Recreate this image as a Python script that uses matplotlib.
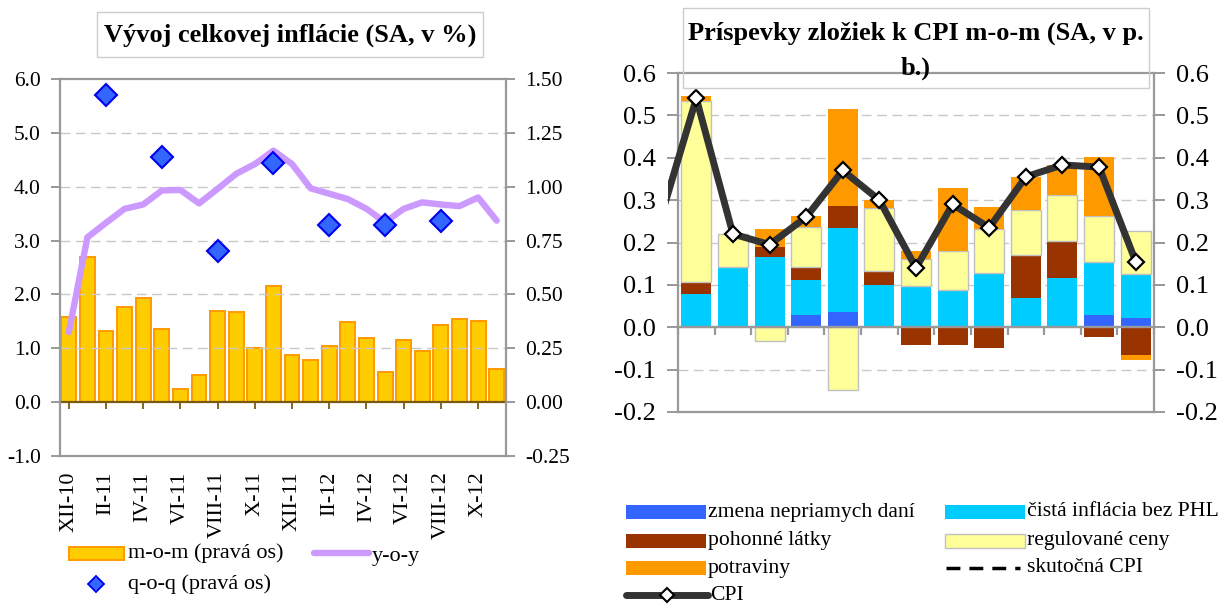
import numpy as np
import matplotlib
matplotlib.use("Agg")
import matplotlib.pyplot as plt
from matplotlib.patches import Rectangle
from matplotlib.lines import Line2D
from matplotlib.ticker import FixedLocator, FormatStrFormatter

plt.rcParams['font.family'] = ['Liberation Serif', 'DejaVu Serif']
plt.rcParams['axes.unicode_minus'] = False

# ---------------- data: left chart ----------------
months_left = ['XII-10', 'I-11', 'II-11', 'III-11', 'IV-11', 'V-11', 'VI-11', 'VII-11',
               'VIII-11', 'IX-11', 'X-11', 'XI-11', 'XII-11', 'I-12', 'II-12', 'III-12',
               'IV-12', 'V-12', 'VI-12', 'VII-12', 'VIII-12', 'IX-12', 'X-12', 'XI-12']
mom = [0.397, 0.673, 0.329, 0.440, 0.484, 0.339, 0.059, 0.127, 0.425, 0.420, 0.252, 0.541,
       0.221, 0.195, 0.260, 0.370, 0.300, 0.141, 0.290, 0.237, 0.356, 0.384, 0.377, 0.155]
yoy = [1.30, 3.06, 3.33, 3.59, 3.67, 3.93, 3.94, 3.69, 3.96, 4.24, 4.42, 4.67,
       4.42, 3.97, 3.87, 3.77, 3.59, 3.34, 3.59, 3.71, 3.67, 3.64, 3.80, 3.37]
nan = np.nan
qoq = [nan, nan, 1.425, nan, nan, 1.137, nan, nan, 0.703, nan, nan, 1.110,
       nan, nan, 0.820, nan, nan, 0.822, nan, nan, 0.843, nan, nan, nan]
left_yticks = [-1.0, 0.0, 1.0, 2.0, 3.0, 4.0, 5.0, 6.0]
right_yticks = [-0.25, 0.0, 0.25, 0.50, 0.75, 1.00, 1.25, 1.50]

# ---------------- data: right chart ----------------
months_right = ['XI.11', 'XII.11', 'I.12', 'II.12', 'III.12', 'IV.12', 'V.12', 'VI.12',
                'VII.12', 'VIII.12', 'IX.12', 'X.12', 'XI.12']
dane = [0, 0, 0, 0.028, 0.037, 0, 0, 0, 0, 0, 0, 0.028, 0.021]
cista = [0.079, 0.143, 0.165, 0.083, 0.197, 0.099, 0.097, 0.088, 0.127, 0.068, 0.116, 0.127, 0.105]
pohonne = [0.027, 0, 0.024, 0.031, 0.052, 0.034, -0.043, -0.041, -0.050, 0.102, 0.088, -0.024, -0.065]
regulovane = [0.429, 0.078, -0.032, 0.094, -0.148, 0.149, 0.065, 0.091, 0.104, 0.106, 0.109, 0.108, 0.102]
potraviny = [0.011, 0, 0.044, 0.026, 0.229, 0.018, 0.019, 0.149, 0.052, 0.079, 0.071, 0.139, -0.012]
cpi = [0.540, 0.220, 0.195, 0.260, 0.370, 0.300, 0.140, 0.290, 0.235, 0.355, 0.383, 0.378, 0.155]
cpi_prev = 0.25  # X.11, only partly visible at the left edge
r_yticks = [-0.2, -0.1, 0.0, 0.1, 0.2, 0.3, 0.4, 0.5, 0.6]

# ---------------- figure ----------------
W, H = 1221, 605
fig = plt.figure(figsize=(W / 100, H / 100), dpi=100)
fig.patch.set_facecolor('white')


def rect(x0, y0, x1, y1):
    return [x0 / W, 1 - y1 / H, (x1 - x0) / W, (y1 - y0) / H]


GRAY = '#999999'
GRID = '#c8c8c8'

# ================= LEFT CHART =================
L = rect(59.5, 79, 506, 456)
axR = fig.add_axes(L)            # right scale: bars
axL = fig.add_axes(L, sharex=axR)  # left scale: y-o-y line, frame
axQ = fig.add_axes(L, sharex=axR, sharey=axR)  # right scale: diamonds
axR.set_zorder(1)
axL.set_zorder(2)
axQ.set_zorder(3)
axL.patch.set_visible(False)
axQ.patch.set_visible(False)

xl = np.arange(len(months_left))
axR.set_xlim(-0.5, len(months_left) - 0.5)
axR.set_ylim(right_yticks[0], right_yticks[-1])
axL.set_ylim(left_yticks[0], left_yticks[-1])

axR.bar(xl, mom, width=0.8, color='#FFCC00', edgecolor='#FF9900', linewidth=1.4, zorder=2)
axL.plot(xl, yoy, color='#CC99FF', lw=4.6, solid_capstyle='round', solid_joinstyle='round')
axQ.plot(xl, qoq, ls='none', marker='D', ms=11.5, mfc='#3366FF', mec='#0000EE', mew=1.5)

# gridlines (left scale)
for v in left_yticks[2:-1]:
    axL.axhline(v, color=GRID, lw=1.0, ls=(0, (7, 4)), zorder=0)

# zero axis on bars axes
for s in ['left', 'right', 'top']:
    axR.spines[s].set_visible(False)
axR.spines['bottom'].set_position(('data', 0))
axR.spines['bottom'].set_color('#7a5a10')
axR.spines['bottom'].set_linewidth(1.6)
axR.xaxis.set_major_locator(FixedLocator(np.arange(-0.5, len(months_left), 2)))
axR.tick_params(axis='x', which='major', direction='out', length=5, width=1.3,
                color='#7a5a10', labelbottom=False)
axR.yaxis.tick_right()
axR.yaxis.set_major_locator(FixedLocator(right_yticks))
axR.yaxis.set_major_formatter(FormatStrFormatter('%.2f'))
axR.tick_params(axis='y', direction='out', length=6.5, width=1.4, color=GRAY,
                labelsize=15.5, pad=7)

# frame + left axis + category labels
for s in axL.spines.values():
    s.set_color(GRAY)
    s.set_linewidth(1.6)
axL.yaxis.set_major_locator(FixedLocator(left_yticks))
axL.yaxis.set_major_formatter(FormatStrFormatter('%.1f'))
axL.tick_params(axis='y', direction='out', length=6.5, width=1.4, color=GRAY,
                labelsize=15.5, pad=7, right=False)
axL.set_xticks(xl[::2])
axL.set_xticklabels(months_left[::2], rotation=90, va='top', ha='center')
axL.tick_params(axis='x', length=0, labelsize=16, pad=11)

axQ.axis('off')

# title box
fig.patches.append(Rectangle((97 / W, 1 - 57 / H), (483 - 97) / W, (57 - 12) / H,
                             transform=fig.transFigure, fill=False, ec='#cccccc', lw=1))
fig.text(290 / W, 1 - 35 / H, 'Vývoj celkovej inflácie (SA, v %)', ha='center', va='center',
         fontsize=19, fontweight='bold')

# legend (left)
fig.patches.append(Rectangle((69 / W, 1 - 560 / H), (124 - 69) / W, 13 / H,
                             transform=fig.transFigure, fc='#FFCC00', ec='#FF9900', lw=1.4))
fig.text(128 / W, 1 - 553 / H, 'm-o-m (pravá os)', ha='left', va='center', fontsize=16)
fig.lines.append(Line2D([314 / W, 369 / W], [1 - 553 / H, 1 - 553 / H], transform=fig.transFigure,
                        color='#CC99FF', lw=4.6, solid_capstyle='round'))
fig.text(372 / W, 1 - 556 / H, 'y-o-y', ha='left', va='center', fontsize=16)
fig.lines.append(Line2D([96 / W], [1 - 584 / H], transform=fig.transFigure, ls='none',
                        marker='D', ms=8, mfc='#3366FF', mec='#0000EE', mew=1.3))
fig.text(128 / W, 1 - 584 / H, 'q-o-q (pravá os)', ha='left', va='center', fontsize=16)

# ================= RIGHT CHART =================
ax2 = fig.add_axes(rect(678, 73, 1154, 412))
xr = np.arange(len(months_right))
ax2.set_xlim(-0.5, len(months_right) - 0.5)
ax2.set_ylim(r_yticks[0], r_yticks[-1])

series = [
    (dane, '#3366FF', 'none', 0),
    (cista, '#00CCFF', 'none', 0),
    (pohonne, '#993300', 'none', 0),
    (regulovane, '#FFFF99', '#c0c0c0', 1.0),
    (potraviny, '#FF9900', 'none', 0),
]
pos = np.zeros(len(xr))
neg = np.zeros(len(xr))
for vals, col, ec, lw in series:
    v = np.asarray(vals, dtype=float)
    bottom = np.where(v >= 0, pos, neg)
    ax2.bar(xr, v, bottom=bottom, width=0.82, color=col, edgecolor=ec, linewidth=lw, zorder=2)
    pos = pos + np.where(v > 0, v, 0)
    neg = neg + np.where(v < 0, v, 0)

# CPI line (with the previous month, clipped just outside the frame)
clip = Rectangle((-0.022, 0), 1.044, 1, transform=ax2.transAxes, visible=False)
ax2.add_patch(clip)
ln, = ax2.plot(np.concatenate([[-1], xr]), np.concatenate([[cpi_prev], cpi]),
               color='#333333', lw=5, zorder=4, solid_joinstyle='round')
ln.set_clip_path(clip)
ax2.plot(xr, cpi, ls='none', marker='D', ms=8.5, mfc='white', mec='black', mew=1.6, zorder=5)

for v in r_yticks:
    if v not in (r_yticks[0], 0.0, r_yticks[-1]):
        ax2.axhline(v, color=GRID, lw=1.0, ls=(0, (7, 4)), zorder=0)

for s in ax2.spines.values():
    s.set_color(GRAY)
    s.set_linewidth(1.6)
ax2.axhline(0, color=GRAY, lw=1.6, zorder=3)
ax2.yaxis.set_major_locator(FixedLocator(r_yticks))
ax2.yaxis.set_major_formatter(FormatStrFormatter('%.1f'))
ax2.tick_params(axis='y', direction='out', length=8, width=1.4, color=GRAY,
                labelsize=19, pad=8, left=True, right=True, labelleft=True, labelright=True)
ax2.set_xticks(xr)
ax2.set_xticklabels(months_right, rotation=90, va='top', ha='center')
ax2.tick_params(axis='x', length=0, labelsize=15.5, pad=12)
# boundary tick marks on zero line
ax2b = fig.add_axes(rect(678, 73, 1154, 412), sharex=ax2, sharey=ax2)
ax2b.patch.set_visible(False)
for s in ['left', 'right', 'top']:
    ax2b.spines[s].set_visible(False)
ax2b.spines['bottom'].set_position(('data', 0))
ax2b.spines['bottom'].set_color(GRAY)
ax2b.spines['bottom'].set_linewidth(1.6)
ax2b.xaxis.set_major_locator(FixedLocator(np.arange(-0.5, len(months_right), 1)))
ax2b.tick_params(axis='x', direction='out', length=6, width=1.6, color=GRAY, labelbottom=False)
ax2b.tick_params(axis='y', left=False, labelleft=False)

# title box (right)
fig.patches.append(Rectangle((683 / W, 1 - 88 / H), (1149 - 683) / W, (88 - 8) / H,
                             transform=fig.transFigure, fill=False, ec='#cccccc', lw=1))
fig.text(916 / W, 1 - 33 / H, 'Príspevky zložiek k CPI m-o-m (SA, v p.', ha='center',
         va='center', fontsize=19, fontweight='bold')
fig.text(916 / W, 1 - 68 / H, 'b.)', ha='center', va='center', fontsize=19, fontweight='bold')

# legend (right)
leg_items = [
    (626, 512, '#3366FF', 'none', 'zmena nepriamych daní'),
    (945, 512, '#00CCFF', 'none', 'čistá inflácia bez PHL'),
    (626, 541, '#993300', 'none', 'pohonné látky'),
    (945, 541, '#FFFF99', '#c0c0c0', 'regulované ceny'),
    (626, 568, '#FF9900', 'none', 'potraviny'),
]
for x0, yc, fc, ec, lab in leg_items:
    fig.patches.append(Rectangle((x0 / W, 1 - (yc + 7) / H), 80 / W, 14 / H,
                                 transform=fig.transFigure, fc=fc, ec=ec, lw=1))
    fig.text((x0 + 82) / W, 1 - yc / H, lab, ha='left', va='center', fontsize=15.6)
fig.lines.append(Line2D([946 / W, 1020 / W], [1 - 568 / H, 1 - 568 / H], transform=fig.transFigure,
                        color='black', lw=2.5, ls=(0, (4, 2.6))))
fig.text(1027 / W, 1 - 568 / H, 'skutočná CPI', ha='left', va='center', fontsize=15.6)
fig.lines.append(Line2D([626 / W, 708 / W], [1 - 595 / H, 1 - 595 / H], transform=fig.transFigure,
                        color='#333333', lw=5, solid_capstyle='round'))
fig.lines.append(Line2D([667 / W], [1 - 595 / H], transform=fig.transFigure, ls='none',
                        marker='D', ms=7.5, mfc='white', mec='black', mew=1.5))
fig.text(710 / W, 1 - 595 / H, 'CPI', ha='left', va='center', fontsize=15.6)

fig.savefig('out.png', dpi=100, facecolor='white')
